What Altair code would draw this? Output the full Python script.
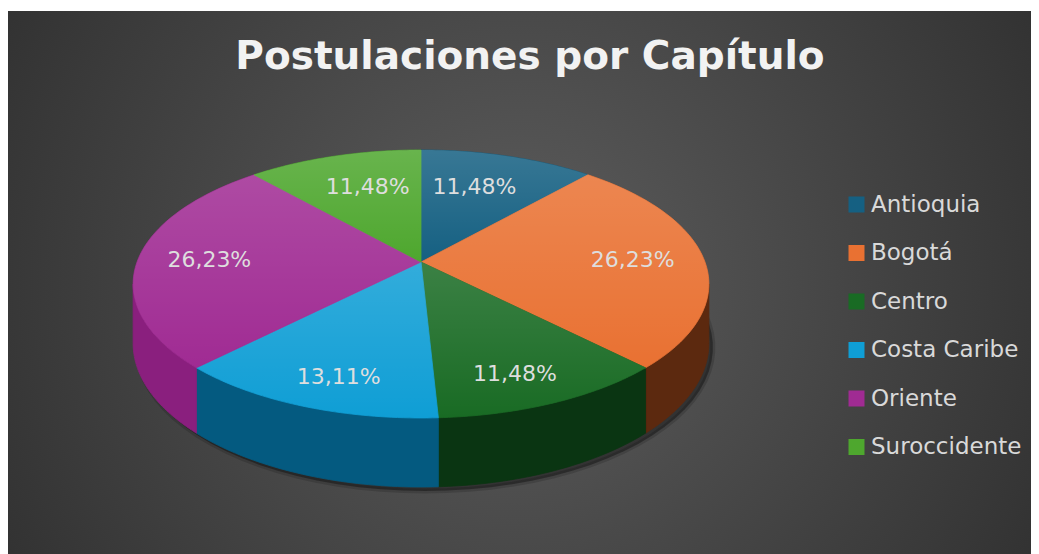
import math
import altair as alt
import pandas as pd

# ---- data ----
capitulos = ["Antioquia", "Bogotá", "Centro", "Costa Caribe", "Oriente", "Suroccidente"]
porcentajes = [11.48, 26.23, 11.48, 13.11, 26.23, 11.48]
titulo = "Postulaciones por Capítulo"

# ---- styles (Office theme palette) ----
colores = ["#156082", "#E97132", "#196B24", "#0F9ED5", "#A02B93", "#4EA72E"]
colores_lado = ["#0b3a52", "#5c290f", "#0a3512", "#045a80", "#8a1f7e", "#2a5e18"]

# ---- geometry of the tilted pie (pixels) ----
W, H = 1023, 543
CX, CY = 413, 251
RX, RY = 284, 130.4
K = 0.164          # perspective strength
D = 57.7           # depth of the pie wall
N = 48             # arc resolution
V0 = math.acos(-K)
V1 = 2 * math.pi - V0

df = pd.DataFrame({"capitulo": capitulos, "valor": porcentajes,
                   "orden": list(range(len(capitulos)))})

xq = alt.X("X:Q", scale=alt.Scale(domain=[0, W], nice=False, zero=False), axis=None)
yq = alt.Y("Y:Q", scale=alt.Scale(domain=[0, H], nice=False, zero=False, reverse=True), axis=None)

base = alt.Chart(df).transform_window(
    acum="sum(valor)", sort=[alt.SortField("orden")], frame=[None, 0]
).transform_joinaggregate(total="sum(valor)").transform_calculate(
    a0="2*PI*(datum.acum - datum.valor)/datum.total",
    a1="2*PI*datum.acum/datum.total",
)

proj = dict(
    s=f"1/(1 - {K}*datum.pz)",
    X=f"{CX} + {RX}*datum.px*datum.s",
)

# background
fondo = alt.Chart(alt.Data(values=[{"f": 1}])).mark_rect(
    fill=alt.Gradient(gradient="radial", x1=0.5, y1=0.5, x2=0.5, y2=0.5, r1=0, r2=0.72,
                      stops=[alt.GradientStop(color="#5d5d5d", offset=0),
                             alt.GradientStop(color="#272727", offset=1)])
).encode(x=alt.value(0), x2=alt.value(W), y=alt.value(0), y2=alt.value(H))

# title
tit = alt.Chart(alt.Data(values=[{"t": titulo}])).mark_text(
    font="DejaVu Sans", fontSize=39, fontWeight="bold", color="#f2f2f2",
    align="center", baseline="alphabetic"
).encode(x=alt.value(522), y=alt.value(58), text="t:N")

# soft shadow under the pie (bottom rim shifted down-right)
sombra = alt.Chart(alt.Data(values=[{"c": 1}])).transform_calculate(
    paso=f"sequence(0, {2 * N})"
).transform_flatten(["paso"]).transform_calculate(
    t=f"2*PI*datum.paso/{2 * N}",
    px="sin(datum.t)",
    pz="-cos(datum.t)",
    s=f"1/(1 - {K}*datum.pz)",
    X=f"{CX + 4} + {RX}*datum.px*datum.s",
    Y=f"{CY + 4} + ({RY}*datum.pz + {D})*datum.s",
).mark_line(interpolate="linear-closed", filled=True, fill="#000000", fillOpacity=0.35,
            stroke="#000000", strokeOpacity=0.15, strokeWidth=5).encode(
    x=xq, y=yq, order="paso:Q")

# side walls (front half only)
lados = base.transform_calculate(
    w0=f"max(datum.a0, {V0})", w1=f"min(datum.a1, {V1})"
).transform_filter("datum.w1 > datum.w0").transform_calculate(
    paso=f"sequence(0, {2 * N + 2})"
).transform_flatten(["paso"]).transform_calculate(
    abajo=f"datum.paso > {N} ? 1 : 0",
    i=f"datum.paso > {N} ? {2 * N + 1} - datum.paso : datum.paso",
    t=f"datum.w0 + (datum.w1 - datum.w0)*datum.i/{N}",
    px="sin(datum.t)",
    pz="-cos(datum.t)",
    **proj,
    Y=f"{CY} + ({RY}*datum.pz + {D}*datum.abajo)*datum.s",
).mark_line(interpolate="linear-closed", filled=True, strokeWidth=0.8).encode(
    x=xq, y=yq, order="paso:Q",
    fill=alt.Fill("capitulo:N", scale=alt.Scale(domain=capitulos, range=colores_lado), legend=None),
    stroke=alt.Stroke("capitulo:N", scale=alt.Scale(domain=capitulos, range=colores_lado), legend=None),
)

# top faces
caras_base = base.transform_calculate(
    paso=f"sequence(0, {N + 2})"
).transform_flatten(["paso"]).transform_calculate(
    t=f"datum.a0 + (datum.a1 - datum.a0)*(datum.paso - 1)/{N}",
    px="datum.paso == 0 ? 0 : sin(datum.t)",
    pz="datum.paso == 0 ? 0 : -cos(datum.t)",
    **proj,
    Y=f"{CY} + {RY}*datum.pz*datum.s",
)
caras = caras_base.mark_line(interpolate="linear-closed", filled=True, strokeWidth=0.8).encode(
    x=xq, y=yq, order="paso:Q",
    fill=alt.Fill("capitulo:N", scale=alt.Scale(domain=capitulos, range=colores),
                  legend=alt.Legend(title=None)),
    stroke=alt.Stroke("capitulo:N", scale=alt.Scale(domain=capitulos, range=colores), legend=None),
)
brillo = caras_base.mark_line(
    interpolate="linear-closed", filled=True, strokeWidth=0,
    fill=alt.Gradient(gradient="linear", x1=0, y1=0, x2=0, y2=1,
                      stops=[alt.GradientStop(color="rgba(255,255,255,0.15)", offset=0),
                             alt.GradientStop(color="rgba(255,255,255,0)", offset=1)])
).encode(x=xq, y=yq, order="paso:Q", detail="capitulo:N")

# data labels: radius fraction grows toward the viewer
etiquetas = base.transform_calculate(
    am="(datum.a0 + datum.a1)/2",
    f="0.75 - 0.08*cos(datum.am)",
    px="datum.f*sin(datum.am)*(0.8 + 0.2*abs(sin(datum.am)))",
    pz="-datum.f*cos(datum.am)",
    **proj,
    Y=f"{CY} + {RY}*datum.pz*datum.s",
    txt="replace(format(100*datum.valor/datum.total, '.2f'), '.', ',') + '%'",
).mark_text(font="DejaVu Sans", fontSize=22, color="#dedede", align="center",
            baseline="middle").encode(x=xq, y=yq, text="txt:N")

chart = alt.layer(
    fondo, tit, sombra, lados, caras, brillo, etiquetas
).resolve_scale(
    fill="independent", stroke="independent"
).properties(
    width=W, height=H,
    padding={"top": 3, "left": 0, "right": 0, "bottom": 0},
    autosize=alt.AutoSizeParams(type="none"),
    background="white",
).configure_view(strokeWidth=0).configure_legend(
    orient="none", legendX=837, legendY=182, padding=0,
    symbolType="square", symbolSize=256, symbolStrokeWidth=0,
    labelFont="DejaVu Sans", labelFontSize=23, labelColor="#d9d9d9",
    labelOffset=3, rowPadding=24.5, labelLimit=300,
)

chart.save("out.html", embed_options={"renderer": "svg", "actions": False})
